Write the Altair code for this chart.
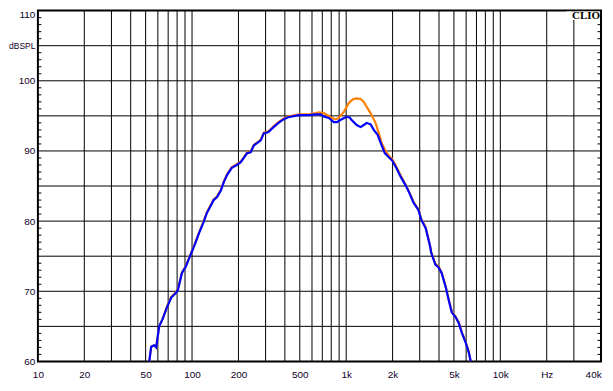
import altair as alt
import pandas as pd

# Blue curve (frequency in Hz, level in dB SPL)
blue_freq = [52.8, 54.3, 56.8, 58.6, 59.5, 61.2, 64.3, 69, 73.3, 78.7, 81, 86, 91, 95, 100, 104, 111,
             119, 125, 133, 138, 145, 154, 161, 169, 181, 195, 207, 218, 228, 240, 252, 264, 279, 292,
             313, 338, 364, 391, 420, 494, 568, 635, 683, 715, 772, 831, 870, 916, 991, 1052, 1085,
             1170, 1240, 1300, 1360, 1440, 1510, 1600, 1700, 1780, 1890, 1980, 2100, 2260, 2430, 2560,
             2740, 2940, 3070, 3280, 3380, 3510, 3560, 3790, 3980, 4160, 4410, 4620, 4840, 5130, 5370,
             5620, 5960, 6240, 6430]
blue_db = [60.0, 62.1, 62.3, 62.0, 63.1, 65.0, 66.0, 67.8, 69.1, 69.8, 70.2, 72.6, 73.5, 74.5, 75.7, 76.6, 78.3,
           79.9, 81.2, 82.3, 83.0, 83.4, 84.4, 85.6, 86.6, 87.6, 88.0, 88.4, 89.1, 89.7, 89.8, 90.8, 91.1, 91.5, 92.5,
           92.7, 93.4, 94.0, 94.5, 94.8, 95.1, 95.1, 95.2, 95.2, 94.9, 94.7, 94.1, 94.1, 94.4, 94.8, 94.8, 94.4,
           93.7, 93.4, 93.7, 94.0, 93.8, 93.0, 92.3, 90.8, 89.7, 89.1, 88.7, 87.7, 86.3, 85.1, 84.1,
           82.6, 81.6, 80.2, 79.0, 77.8, 76.3, 75.5, 73.8, 73.4, 72.6, 70.7, 68.8, 67.0, 66.3, 65.5,
           64.1, 62.7, 61.3, 60.0]

# Orange curve
orange_freq = [52.8, 54.3, 56.8, 58.6, 59.5, 61.2, 64.3, 69, 73.3, 78.7, 81, 86, 91, 95, 100, 104, 111,
               119, 125, 133, 138, 145, 154, 161, 169, 181, 195, 207, 218, 228, 240, 252, 264, 279, 292,
               313, 338, 364, 391, 420, 494, 568, 635, 665, 715, 772, 795, 831, 855, 893, 916, 962, 991,
               1037, 1085, 1117, 1170, 1240, 1300, 1340, 1440, 1510, 1550, 1630, 1700, 1800, 1890, 1980,
               2100, 2260, 2430, 2560, 2740, 2940, 3070, 3280, 3380, 3510, 3560, 3790, 3980, 4160, 4410,
               4620, 4840, 5130, 5370, 5620, 5960, 6240, 6430]
orange_db = [60.0, 62.1, 62.3, 62.0, 63.1, 65.0, 66.0, 67.9, 69.2, 69.9, 70.3, 72.7, 73.6, 74.6, 75.8, 76.7, 78.4,
             80.0, 81.3, 82.4, 83.1, 83.5, 84.5, 85.7, 86.7, 87.7, 88.1, 88.5, 89.2, 89.8, 89.9, 90.9, 91.2, 91.6, 92.6,
             92.8, 93.5, 94.1, 94.6, 94.9, 95.2, 95.2, 95.4, 95.5, 95.4, 95.0, 94.8, 94.6, 94.5, 94.7, 95.0, 95.5, 96.0,
             96.8, 97.2, 97.4, 97.5, 97.4, 97.0, 96.5, 95.4, 94.5, 94.0, 92.5, 91.1, 90.0, 89.3, 88.9,
             87.9, 86.5, 85.2, 84.2, 82.7, 81.7, 80.3, 79.1, 77.9, 76.4, 75.6, 73.9, 73.5, 72.7, 70.8,
             68.9, 67.1, 66.4, 65.6, 64.2, 62.8, 61.4, 60.0]

grid_freqs = [20, 30, 40, 50, 60, 70, 80, 90, 100, 200, 300, 400, 500, 600, 700, 800, 900,
              1000, 2000, 3000, 4000, 5000, 6000, 7000, 8000, 9000, 10000, 20000, 30000]
grid_db = [65, 70, 75, 80, 85, 90, 95, 100, 105]
minor_db = [v for v in range(61, 110) if v % 5 != 0]

x_label_vals = [10, 20, 50, 100, 200, 500, 1000, 2000, 5000, 10000, 20000, 40000]
x_label_text = ["10", "20", "50", "100", "200", "500", "1k", "2k", "5k", "10k", "Hz", "40k"]
y_label_vals = [60, 70, 80, 90, 100, 105, 110]
y_label_text = ["60", "70", "80", "90", "100", "dBSPL", "110"]


def cond_expr(vals, texts):
    expr = "''"
    for v, t in reversed(list(zip(vals, texts))):
        expr = f"datum.value=={v}?'{t}':({expr})"
    return expr


df = pd.concat([
    pd.DataFrame({"freq": orange_freq, "db": orange_db, "series": "orange"}),
    pd.DataFrame({"freq": blue_freq, "db": blue_db, "series": "blue"}),
])

FONT = "Liberation Sans"
LABEL_COLOR = "#10002a"

x_scale = alt.Scale(type="log", domain=[10, 45000], nice=False)
y_scale = alt.Scale(domain=[60, 110], nice=False, zero=False)

x_axis = alt.Axis(values=x_label_vals, labelExpr=cond_expr(x_label_vals, x_label_text),
                  grid=False, ticks=False, domain=False, title=None, labelPadding=8,
                  labelFontSize=10, labelFont=FONT, labelColor=LABEL_COLOR,
                  labelOverlap=False, labelFlush=False)
y_axis = alt.Axis(values=y_label_vals, labelExpr=cond_expr(y_label_vals, y_label_text),
                  grid=False, ticks=False, domain=False, title=None, labelPadding=3,
                  labelFontSize={"condition": {"test": "datum.value == 105", "value": 8.5}, "value": 10},
                  labelFont=FONT, labelColor=LABEL_COLOR, labelOverlap=False,
                  labelBaseline={"condition": {"test": "datum.value == 110", "value": "top"}, "value": "middle"},
                  labelOffset={"condition": {"test": "datum.value == 110", "value": -1}, "value": 0})

X = alt.X("freq:Q", scale=x_scale, axis=x_axis)
Y = alt.Y("db:Q", scale=y_scale, axis=y_axis)

vgrid = alt.Chart(pd.DataFrame({"freq": grid_freqs})).mark_rule(
    color="black", strokeWidth=1).encode(x=X)
hgrid = alt.Chart(pd.DataFrame({"db": grid_db})).mark_rule(
    color="black", strokeWidth=1).encode(y=Y)

minor = pd.DataFrame({"db": minor_db})
left_ticks = alt.Chart(minor).mark_rule(color="black", strokeWidth=1).encode(
    y=Y, x=alt.value(0), x2=alt.value(3.5))
right_ticks = alt.Chart(minor).mark_rule(color="black", strokeWidth=1).encode(
    y=Y, x=alt.value(561.5), x2=alt.value(565))

orange = alt.Chart(df[df.series == "orange"]).mark_line(
    color="#ff8000", strokeWidth=2.2, clip=True).encode(x=X, y=Y)
blue = alt.Chart(df[df.series == "blue"]).mark_line(
    color="#0000ff", strokeWidth=2.2, clip=True).encode(x=X, y=Y)

badge_bg = alt.Chart(pd.DataFrame({"t": ["CLIO"]})).mark_rect(color="white").encode(
    x=alt.value(530), x2=alt.value(564), y=alt.value(1), y2=alt.value(9.5))
badge = alt.Chart(pd.DataFrame({"t": ["CLIO"]})).mark_text(
    font="Liberation Serif", fontWeight="bold", fontSize=11, color="black",
    align="right", baseline="middle").encode(
    text="t:N", x=alt.value(564), y=alt.value(5.5))

chart = alt.layer(vgrid, hgrid, left_ticks, right_ticks, orange, blue, badge_bg, badge).properties(
    width=565, height=352,
    autosize=alt.AutoSizeParams(type="none"),
    padding={"left": 30, "top": 2, "right": 4, "bottom": 20},
    background="white",
).configure_view(stroke="black", strokeWidth=2)

chart.save("out.html", embed_options={"renderer": "svg", "actions": False})
